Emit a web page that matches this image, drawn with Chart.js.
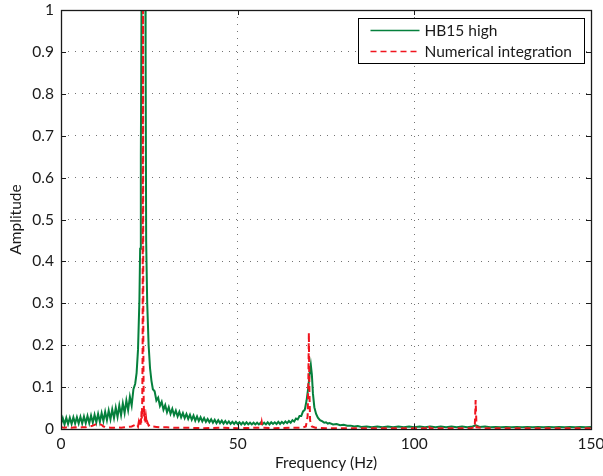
<!DOCTYPE html>
<html>
<head>
<meta charset="utf-8">
<script src="https://cdn.jsdelivr.net/npm/chart.js@4.4.1/dist/chart.umd.min.js"></script>
<style>
html,body{margin:0;padding:0;background:#fff;}
canvas{display:block;}
</style>
</head>
<body>
<canvas id="c" width="603" height="476"></canvas>
<script>
// ---- Data ----
const xTickValues = [0, 50, 100, 150];
const xTickLabels = ['0', '50', '100', '150'];
const yTickValues = [0, 0.1, 0.2, 0.3, 0.4, 0.5, 0.6, 0.7, 0.8, 0.9, 1];
const yTickLabels = ['0', '0.1', '0.2', '0.3', '0.4', '0.5', '0.6', '0.7', '0.8', '0.9', '1'];

const seriesNames = ['HB15 high', 'Numerical integration'];

// HB15 high (green) – frequency (Hz) and amplitude
const hbFreq = [
  0,0.5,1,1.5,2,2.5,3,3.5,4,4.5,5,5.5,6,6.5,7,7.5,8,8.5,9,9.5,
  10,10.5,11,11.5,12,12.5,13,13.5,14,14.5,15,15.5,16,16.5,17,17.5,18,18.5,19,19.5,
  20,20.5,21,
  21.4,21.8,22.2,22.4,22.6,22.8,23.3,23.8,23.95,24.1,24.4,24.8,25.2,25.6,26,
  26.5,27,27.5,28,28.5,29,29.5,30,30.5,31,
  31.5,32,32.5,33,33.5,34,34.5,35,35.5,36,
  36.5,37,37.5,38,38.5,39,39.5,40,40.5,41,
  41.5,42,42.5,43,43.5,44,44.5,45,45.5,46,
  46.5,47,47.5,48,48.5,49,49.5,50,50.5,51,
  51.5,52,52.5,53,53.5,54,54.5,55,55.5,56,
  56.5,57,57.5,58,58.5,59,59.5,60,60.5,61,
  61.5,62,62.5,63,63.5,64,64.5,65,65.5,66,
  66.5,67,67.5,68,68.5,69,69.5,70,
  70.4,70.7,71,71.3,71.7,72.2,72.7,73.3,74,74.5,75,75.5,76,77,78,79,80,81,82,83,84,85,
  86.5,88,89.5,91,92.5,94,95.5,97,98.5,100,101.5,103,104.5,106,107.5,109,110.5,112,113.5,115,116.5,
  117.4,
  118.5,120,121.5,123,124.5,126,127.5,129,130.5,132,133.5,135,136.5,138,139.5,141,142.5,144,145.5,147,148.5,150
];
const hbAmp = [
  0.012,0.026,0.011,0.027,0.012,0.027,0.012,0.028,0.013,0.028,
  0.013,0.029,0.013,0.030,0.014,0.031,0.014,0.032,0.015,0.034,
  0.016,0.036,0.017,0.038,0.019,0.041,0.021,0.044,0.023,0.047,
  0.026,0.051,0.029,0.056,0.033,0.061,0.038,0.068,0.045,0.077,
  0.056,0.095,0.108,
  0.134,0.19,0.31,0.43,0.65,1.05,1.3,1.2,0.9,0.45,0.30,0.20,0.145,0.115,0.095,
  0.090,0.068,0.075,0.055,0.065,0.046,0.057,0.040,0.052,0.036,
  0.048,0.033,0.044,0.030,0.041,0.028,0.038,0.026,0.036,0.024,
  0.034,0.022,0.032,0.020,0.030,0.019,0.028,0.018,0.026,0.017,
  0.024,0.016,0.023,0.015,0.022,0.014,0.021,0.014,0.020,0.013,
  0.019,0.013,0.018,0.012,0.017,0.012,0.017,0.012,0.016,0.011,
  0.016,0.011,0.016,0.011,0.015,0.011,0.015,0.011,0.015,0.011,
  0.015,0.011,0.015,0.011,0.016,0.011,0.016,0.012,0.016,0.012,
  0.017,0.012,0.017,0.013,0.018,0.014,0.019,0.015,0.021,0.018,
  0.025,0.023,0.031,0.031,0.042,0.046,0.068,0.100,
  0.135,0.153,0.130,0.085,0.052,0.036,0.027,0.021,0.018,0.015,0.016,0.013,0.014,0.011,0.012,0.009,0.010,0.008,0.008,0.006,0.007,0.005,
  0.006,0.004,0.006,0.004,0.006,0.004,0.006,0.004,0.006,0.004,0.006,0.004,0.006,0.004,0.006,0.004,0.006,0.004,0.006,0.004,0.006,
  0.009,
  0.005,0.006,0.004,0.005,0.004,0.005,0.004,0.005,0.004,0.005,0.004,0.005,0.004,0.005,0.004,0.005,0.004,0.005,0.004,0.005,0.004,0.005
];

// Numerical integration (red dashed)
const niFreq = [
  0,1,2,3,4,5,6,7,8,9,9.5,10,10.5,11,11.5,12,13,14,15,16,17,18,19,20,20.5,21,
  21.5,21.8,22.0,22.2,22.35,22.5,22.6,22.7,22.8,22.9,23.0,23.1,23.2,23.3,23.4,23.5,23.6,23.7,23.8,23.95,24.1,24.3,24.5,24.8,25.2,26,27,28,30,32,35,
  40,45,50,55,56.5,56.8,57.1,60,65,68,69.3,69.8,70.0,70.15,70.3,70.5,71,72,75,80,90,100,
  103.8,104.1,104.4,110,116,117.1,117.35,117.6,120,130,140,150
];
const niAmp = [
  0.004,0.003,0.005,0.003,0.004,0.003,0.004,0.004,0.006,0.008,0.010,0.012,0.013,0.011,0.010,0.006,0.004,0.003,0.003,0.004,0.003,0.004,0.005,0.006,0.008,0.010,
  0.012,0.006,0.016,0.008,0.022,0.010,0.030,0.015,0.045,0.025,0.07,0.2,1.0,0.2,0.07,0.03,0.05,0.02,0.035,0.012,0.025,0.01,0.015,0.008,0.01,0.006,0.005,0.004,0.004,0.003,0.003,
  0.002,0.003,0.002,0.003,0.003,0.017,0.003,0.002,0.003,0.003,0.006,0.03,0.11,0.23,0.09,0.02,0.006,0.003,0.002,0.002,0.002,0.002,
  0.002,0.008,0.002,0.002,0.002,0.004,0.069,0.004,0.002,0.002,0.002,0.002
];

const GREEN = 'rgb(5,128,60)';
const RED = 'rgb(240,20,30)';
const FONT = 'Lato, "Open Sans", sans-serif';

const toXY = (xs, ys) => xs.map((v, i) => ({ x: v, y: ys[i] }));

const framePlugin = {
  id: 'frame',
  afterDatasetsDraw(chart) {
    const { ctx, chartArea: a, scales: { x, y } } = chart;
    ctx.save();
    ctx.strokeStyle = '#1a1a1a';
    ctx.lineWidth = 1;
    ctx.beginPath();
    xTickValues.forEach(v => {
      const px = Math.round(x.getPixelForValue(v)) + 0.5;
      ctx.moveTo(px, a.bottom); ctx.lineTo(px, a.bottom - 5);
      ctx.moveTo(px, a.top); ctx.lineTo(px, a.top + 5);
    });
    yTickValues.forEach(v => {
      const py = Math.round(y.getPixelForValue(v)) + 0.5;
      ctx.moveTo(a.left, py); ctx.lineTo(a.left + 5, py);
      ctx.moveTo(a.right, py); ctx.lineTo(a.right - 5, py);
    });
    ctx.stroke();
    ctx.lineWidth = 1.3;
    ctx.strokeRect(Math.round(a.left) + 0.5, Math.round(a.top) + 0.5,
                   Math.round(a.right - a.left), Math.round(a.bottom - a.top));

    // Legend (inside plot, top-right)
    const bw = 226, bh = 45;
    const bx = Math.round(a.right - 7 - bw) + 0.5, by = Math.round(a.top + 8) + 0.5;
    ctx.fillStyle = '#fff';
    ctx.fillRect(bx, by, bw, bh);
    ctx.lineWidth = 1;
    ctx.strokeStyle = '#000';
    ctx.strokeRect(bx, by, bw, bh);
    const ds = chart.data.datasets;
    const rows = [ds[1], ds[0]];
    rows.forEach((d, i) => {
      const yy = by + 12 + i * 21;
      ctx.beginPath();
      ctx.strokeStyle = d.borderColor;
      ctx.lineWidth = 1.5;
      ctx.setLineDash(d.borderDash || []);
      ctx.moveTo(bx + 12, yy); ctx.lineTo(bx + 61, yy);
      ctx.stroke();
      ctx.setLineDash([]);
      ctx.fillStyle = '#1a1a1a';
      ctx.font = '15.5px ' + FONT;
      ctx.textBaseline = 'middle';
      ctx.textAlign = 'left';
      ctx.fillText(d.label, bx + 66, yy);
    });
    ctx.restore();
  }
};

new Chart(document.getElementById('c'), {
  type: 'line',
  data: {
    datasets: [
      {
        label: seriesNames[1],
        data: toXY(niFreq, niAmp),
        borderColor: RED,
        borderWidth: 2,
        borderDash: [6, 4],
        pointRadius: 0,
        tension: 0,
        order: 0
      },
      {
        label: seriesNames[0],
        data: toXY(hbFreq, hbAmp),
        borderColor: GREEN,
        borderWidth: 2,
        pointRadius: 0,
        tension: 0,
        order: 1
      }
    ]
  },
  options: {
    responsive: false,
    animation: false,
    devicePixelRatio: 1,
    layout: { padding: { top: 10, right: 12, left: 0, bottom: 0 } },
    plugins: { legend: { display: false }, tooltip: { enabled: false } },
    scales: {
      x: {
        type: 'linear',
        min: 0, max: 150,
        afterFit(s) { s.height = 47; s.paddingLeft = 0; s.paddingRight = 0; },
        afterBuildTicks(s) { s.ticks = xTickValues.map(v => ({ value: v })); },
        ticks: {
          callback: (v) => xTickLabels[xTickValues.indexOf(v)],
          color: '#1a1a1a',
          font: { family: FONT, size: 15.5 },
          padding: 6,
          maxRotation: 0
        },
        grid: {
          drawTicks: false,
          color: 'rgba(0,0,0,0.55)',
          lineWidth: 1
        },
        border: { display: false, dash: [1, 6] },
        title: {
          display: true,
          text: 'Frequency (Hz)',
          color: '#1a1a1a',
          font: { family: FONT, size: 15.5 },
          padding: { top: 0, bottom: 4 }
        }
      },
      y: {
        type: 'linear',
        min: 0, max: 1,
        afterFit(s) { s.width = 61; s.paddingTop = 0; s.paddingBottom = 0; },
        afterBuildTicks(s) { s.ticks = yTickValues.map(v => ({ value: v })); },
        ticks: {
          callback: (v) => yTickLabels[yTickValues.findIndex(t => Math.abs(t - v) < 1e-9)],
          color: '#1a1a1a',
          font: { family: FONT, size: 15.5 },
          padding: 7
        },
        grid: {
          drawTicks: false,
          color: 'rgba(0,0,0,0.55)',
          lineWidth: 1
        },
        border: { display: false, dash: [1, 6] },
        title: {
          display: true,
          text: 'Amplitude',
          color: '#1a1a1a',
          font: { family: FONT, size: 15.5 },
          padding: { top: 7, bottom: 0 }
        }
      }
    }
  },
  plugins: [framePlugin]
});
</script>
</body>
</html>
